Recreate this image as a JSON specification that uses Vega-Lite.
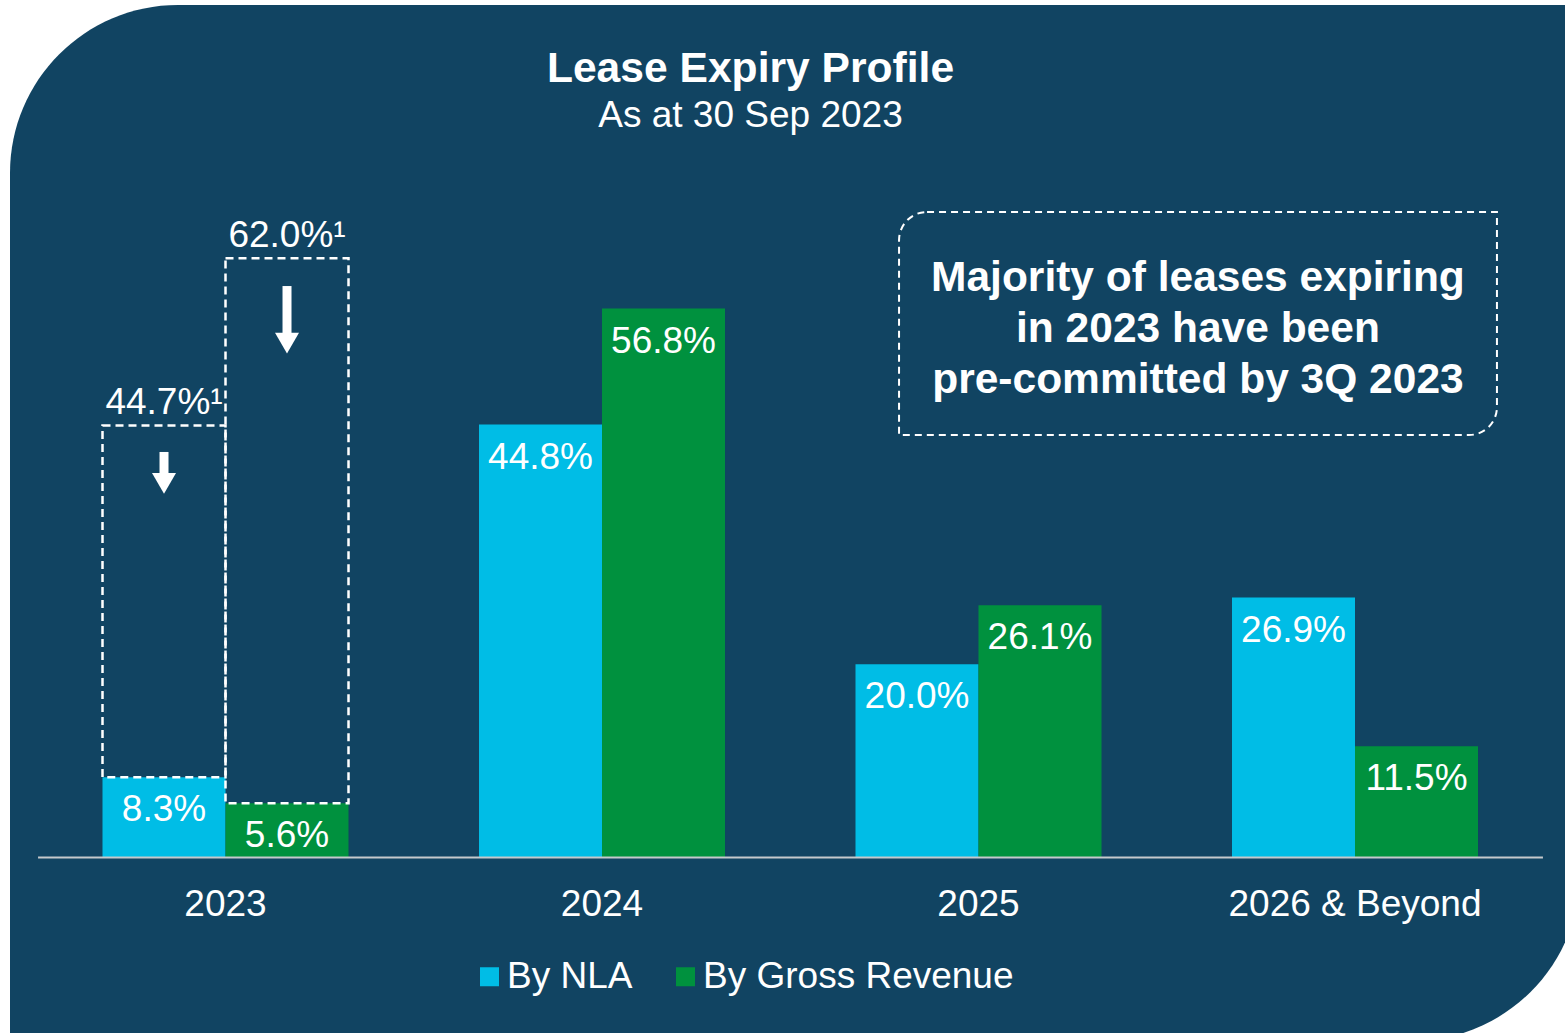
{
  "$schema": "https://vega.github.io/schema/vega-lite/v6.json",
  "width": 1570,
  "height": 1036,
  "autosize": {"type": "none"},
  "padding": {"left": 10, "top": 5, "right": -15, "bottom": -8},
  "background": "#ffffff",
  "title": {
    "text": "Lease Expiry Profile",
    "subtitle": "As at 30 Sep 2023",
    "anchor": "middle",
    "frame": "group",
    "orient": "top",
    "offset": -128.5,
    "dx": -44.5,
    "font": "Liberation Sans",
    "fontSize": 42.6,
    "fontWeight": "bold",
    "color": "#ffffff",
    "subtitleFont": "Liberation Sans",
    "subtitleFontSize": 37,
    "subtitleColor": "#ffffff",
    "subtitlePadding": 7
  },
  "datasets": {
    "bars": [
      {"year": "2023", "series": "By NLA", "value": 8.3, "label": "8.3%", "prev": 44.7, "prevLabel": "44.7%¹"},
      {"year": "2023", "series": "By Gross Revenue", "value": 5.6, "label": "5.6%", "prev": 62.0, "prevLabel": "62.0%¹"},
      {"year": "2024", "series": "By NLA", "value": 44.8, "label": "44.8%"},
      {"year": "2024", "series": "By Gross Revenue", "value": 56.8, "label": "56.8%"},
      {"year": "2025", "series": "By NLA", "value": 20.0, "label": "20.0%"},
      {"year": "2025", "series": "By Gross Revenue", "value": 26.1, "label": "26.1%"},
      {"year": "2026 & Beyond", "series": "By NLA", "value": 26.9, "label": "26.9%"},
      {"year": "2026 & Beyond", "series": "By Gross Revenue", "value": 11.5, "label": "11.5%"}
    ],
    "arrows": [
      {"year": "2023", "series": "By NLA", "top": 41.96, "base": 39.5, "head": 38.7},
      {"year": "2023", "series": "By Gross Revenue", "top": 59.13, "base": 54.2, "head": 53.23}
    ],
    "note": [
      {"text": "Majority of leases expiring\nin 2023 have been\npre-committed by 3Q 2023"}
    ]
  },
  "layer": [
    {
      "data": {"values": [{}]},
      "mark": {"type": "rect", "fill": "#114462", "strokeWidth": 0, "cornerRadiusTopLeft": 168, "cornerRadiusBottomRight": 168},
      "encoding": {
        "x": {"datum": "2023", "type": "nominal", "bandPosition": -0.376, "title": null, "axis": {"labelAngle": 0}, "scale": {"domain": ["2023", "2024", "2025", "2026 & Beyond"], "paddingInner": 0.3466, "paddingOuter": 0.2583, "align": 0.4756}},
        "x2": {"datum": "2026 & Beyond", "bandPosition": 1.4146},
        "y": {"datum": 88.21, "type": "quantitative", "axis": null, "scale": {"domain": [-18.99, 88.21], "nice": false}},
        "y2": {"datum": -18.99}
      }
    },
    {
      "data": {"name": "bars"},
      "mark": {"type": "bar", "strokeWidth": 0},
      "encoding": {
        "x": {"field": "year", "type": "nominal", "title": null, "axis": {"labelAngle": 0}, "scale": {"domain": ["2023", "2024", "2025", "2026 & Beyond"], "paddingInner": 0.3466, "paddingOuter": 0.2583, "align": 0.4756}},
        "xOffset": {"field": "series", "type": "nominal", "scale": {"domain": ["By NLA", "By Gross Revenue"], "paddingInner": 0, "paddingOuter": 0}},
        "y": {"field": "value", "type": "quantitative", "axis": null, "scale": {"domain": [-18.99, 88.21], "nice": false}},
        "color": {
          "field": "series",
          "type": "nominal",
          "scale": {"domain": ["By NLA", "By Gross Revenue"], "range": ["#00bde6", "#00913e"]},
          "legend": {
            "orient": "none",
            "legendX": 461,
            "legendY": 953,
            "direction": "horizontal",
            "title": null,
            "symbolType": "square",
            "symbolSize": 361,
            "symbolStrokeWidth": 0,
            "symbolOpacity": 1,
            "labelFont": "Liberation Sans",
            "labelFontSize": 37,
            "labelColor": "#ffffff",
            "labelOffset": -1,
            "columnPadding": 34,
            "padding": 0,
            "labelLimit": 1000
          }
        }
      }
    },
    {
      "data": {"values": [{}]},
      "mark": {"type": "rule", "color": "#c6c9cc", "strokeWidth": 2},
      "encoding": {
        "x": {"datum": "2023", "type": "nominal", "bandPosition": -0.262, "title": null, "scale": {"domain": ["2023", "2024", "2025", "2026 & Beyond"], "paddingInner": 0.3466, "paddingOuter": 0.2583, "align": 0.4756}},
        "x2": {"datum": "2026 & Beyond", "bandPosition": 1.264},
        "y": {"datum": 0, "type": "quantitative", "axis": null, "scale": {"domain": [-18.99, 88.21], "nice": false}}
      }
    },
    {
      "data": {"name": "bars"},
      "mark": {"type": "text", "dy": 44, "baseline": "alphabetic", "align": "center", "font": "Liberation Sans", "fontSize": 37, "color": "#ffffff"},
      "encoding": {
        "x": {"field": "year", "type": "nominal", "title": null, "scale": {"domain": ["2023", "2024", "2025", "2026 & Beyond"], "paddingInner": 0.3466, "paddingOuter": 0.2583, "align": 0.4756}},
        "xOffset": {"field": "series", "type": "nominal", "scale": {"domain": ["By NLA", "By Gross Revenue"], "paddingInner": 0, "paddingOuter": 0}},
        "y": {"field": "value", "type": "quantitative", "axis": null, "scale": {"domain": [-18.99, 88.21], "nice": false}},
        "text": {"field": "label"}
      }
    },
    {
      "data": {"name": "bars"},
      "transform": [{"filter": "isValid(datum.prev)"}],
      "mark": {"type": "bar", "fill": "transparent", "stroke": "#ffffff", "strokeWidth": 2.5, "strokeDash": [8, 5]},
      "encoding": {
        "x": {"field": "year", "type": "nominal", "title": null, "scale": {"domain": ["2023", "2024", "2025", "2026 & Beyond"], "paddingInner": 0.3466, "paddingOuter": 0.2583, "align": 0.4756}},
        "xOffset": {"field": "series", "type": "nominal", "scale": {"domain": ["By NLA", "By Gross Revenue"], "paddingInner": 0, "paddingOuter": 0}},
        "y": {"field": "prev", "type": "quantitative", "axis": null, "scale": {"domain": [-18.99, 88.21], "nice": false}},
        "y2": {"field": "value"}
      }
    },
    {
      "data": {"name": "bars"},
      "transform": [{"filter": "isValid(datum.prev)"}],
      "mark": {"type": "text", "dy": -11, "baseline": "alphabetic", "align": "center", "font": "Liberation Sans", "fontSize": 37, "color": "#ffffff"},
      "encoding": {
        "x": {"field": "year", "type": "nominal", "title": null, "scale": {"domain": ["2023", "2024", "2025", "2026 & Beyond"], "paddingInner": 0.3466, "paddingOuter": 0.2583, "align": 0.4756}},
        "xOffset": {"field": "series", "type": "nominal", "scale": {"domain": ["By NLA", "By Gross Revenue"], "paddingInner": 0, "paddingOuter": 0}},
        "y": {"field": "prev", "type": "quantitative", "axis": null, "scale": {"domain": [-18.99, 88.21], "nice": false}},
        "text": {"field": "prevLabel"}
      }
    },
    {
      "data": {"name": "arrows"},
      "mark": {"type": "rule", "color": "#ffffff", "strokeWidth": 9, "strokeCap": "butt"},
      "encoding": {
        "x": {"field": "year", "type": "nominal", "title": null, "scale": {"domain": ["2023", "2024", "2025", "2026 & Beyond"], "paddingInner": 0.3466, "paddingOuter": 0.2583, "align": 0.4756}},
        "xOffset": {"field": "series", "type": "nominal", "scale": {"domain": ["By NLA", "By Gross Revenue"], "paddingInner": 0, "paddingOuter": 0}},
        "y": {"field": "top", "type": "quantitative", "axis": null, "scale": {"domain": [-18.99, 88.21], "nice": false}},
        "y2": {"field": "base"}
      }
    },
    {
      "data": {"name": "arrows"},
      "mark": {"type": "point", "shape": "triangle-down", "filled": true, "opacity": 1, "size": 576, "color": "#ffffff", "strokeWidth": 0},
      "encoding": {
        "x": {"field": "year", "type": "nominal", "title": null, "scale": {"domain": ["2023", "2024", "2025", "2026 & Beyond"], "paddingInner": 0.3466, "paddingOuter": 0.2583, "align": 0.4756}},
        "xOffset": {"field": "series", "type": "nominal", "scale": {"domain": ["By NLA", "By Gross Revenue"], "paddingInner": 0, "paddingOuter": 0}},
        "y": {"field": "head", "type": "quantitative", "axis": null, "scale": {"domain": [-18.99, 88.21], "nice": false}}
      }
    },
    {
      "data": {"name": "note"},
      "mark": {"type": "rect", "fill": "transparent", "stroke": "#ffffff", "strokeWidth": 2, "strokeDash": [7, 5], "cornerRadiusTopLeft": 28, "cornerRadiusBottomRight": 28},
      "encoding": {
        "x": {"datum": "2025", "type": "nominal", "bandPosition": 0.177, "title": null, "scale": {"domain": ["2023", "2024", "2025", "2026 & Beyond"], "paddingInner": 0.3466, "paddingOuter": 0.2583, "align": 0.4756}},
        "x2": {"datum": "2026 & Beyond", "bandPosition": 1.077},
        "y": {"datum": 66.79, "type": "quantitative", "axis": null, "scale": {"domain": [-18.99, 88.21], "nice": false}},
        "y2": {"datum": 43.71}
      }
    },
    {
      "data": {"name": "note"},
      "mark": {"type": "text", "lineBreak": "\n", "lineHeight": 51, "align": "center", "baseline": "middle", "font": "Liberation Sans", "fontSize": 42.5, "fontWeight": "bold", "color": "#ffffff"},
      "encoding": {
        "x": {"datum": "2025", "type": "nominal", "bandPosition": 1.392, "title": null, "scale": {"domain": ["2023", "2024", "2025", "2026 & Beyond"], "paddingInner": 0.3466, "paddingOuter": 0.2583, "align": 0.4756}},
        "y": {"datum": 59.94, "type": "quantitative", "axis": null, "scale": {"domain": [-18.99, 88.21], "nice": false}},
        "text": {"field": "text"}
      }
    }
  ],
  "config": {
    "font": "Liberation Sans",
    "view": {"stroke": null},
    "axis": {
      "domain": false,
      "ticks": false,
      "tickSize": 0,
      "grid": false,
      "labelFont": "Liberation Sans",
      "labelFontSize": 37,
      "labelColor": "#ffffff",
      "labelPadding": 28.6,
      "labelLimit": 1000,
      "labelAngle": 0
    },
    "axisX": {"offset": -183.5},
    "axisY": {"disable": true}
  }
}
